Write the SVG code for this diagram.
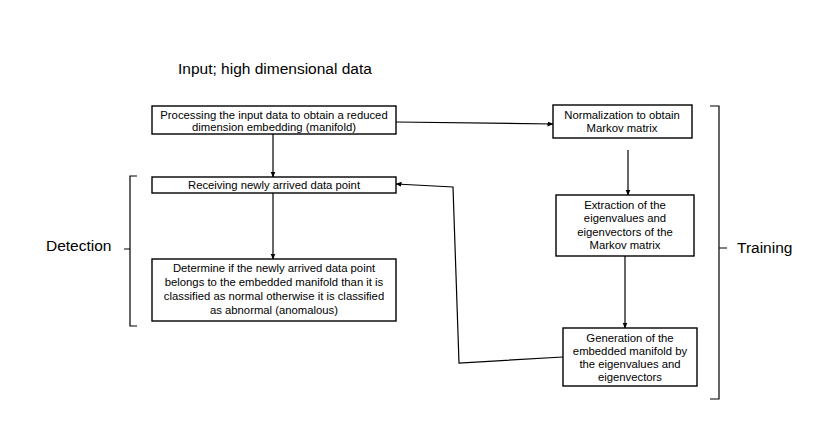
<svg xmlns="http://www.w3.org/2000/svg" width="830" height="436" viewBox="0 0 830 436">
<defs>
<marker id="ah" markerWidth="6" markerHeight="6" refX="5.5" refY="3" orient="auto" markerUnits="userSpaceOnUse">
<path d="M0,0.5 L6,3 L0,5.5 Z" fill="#000"/>
</marker>
<style>
.box{fill:#fff;stroke:#000;stroke-width:1.4}
.t{font-family:"Liberation Sans",Arial,sans-serif;font-size:11.3px;fill:#000;text-anchor:middle}
.lbl{font-family:"Liberation Sans",Arial,sans-serif;font-size:15.5px;fill:#000}
.c{fill:none;stroke:#000;stroke-width:1.2}
.br{fill:none;stroke:#000;stroke-width:1.2}
</style>
</defs>
<rect width="830" height="436" fill="#fff"/>
<text class="lbl" x="178" y="74">Input; high dimensional data</text>
<g id="connectors">
<line class="c" x1="273" y1="134" x2="273" y2="177" marker-end="url(#ah)"/>
<line class="c" x1="273" y1="193" x2="273" y2="259" marker-end="url(#ah)"/>
<line class="c" x1="396" y1="122" x2="553" y2="124" marker-end="url(#ah)"/>
<line class="c" x1="628" y1="150" x2="628" y2="195" marker-end="url(#ah)"/>
<line class="c" x1="625" y1="256" x2="625" y2="328" marker-end="url(#ah)"/>
<polyline class="c" points="563,357 459,363 453,187 396,184" marker-end="url(#ah)"/>
</g>
<g id="n1">
<rect class="box" x="152" y="106" width="244" height="28"/>
<text class="t" x="274" y="119">Processing the input data to obtain a reduced</text>
<text class="t" x="274" y="131">dimension embedding (manifold)</text>
</g>
<g id="n2">
<rect class="box" x="152" y="177" width="244" height="16"/>
<text class="t" x="274" y="189">Receiving newly arrived data point</text>
</g>
<g id="n3">
<rect class="box" x="152" y="259" width="244" height="62"/>
<text class="t" x="274" y="272">Determine if the newly arrived data point</text>
<text class="t" x="274" y="286">belongs to the embedded manifold than it is</text>
<text class="t" x="274" y="300">classified as normal otherwise it is classified</text>
<text class="t" x="274" y="314">as abnormal (anomalous)</text>
</g>
<g id="n4">
<rect class="box" x="553" y="105" width="139" height="33"/>
<text class="t" x="622" y="119">Normalization to obtain</text>
<text class="t" x="622" y="132">Markov matrix</text>
</g>
<g id="n5">
<rect class="box" x="556" y="195" width="138" height="61"/>
<text class="t" x="625" y="209">Extraction of  the</text>
<text class="t" x="625" y="222">eigenvalues and</text>
<text class="t" x="625" y="236">eigenvectors of the</text>
<text class="t" x="625" y="249">Markov matrix</text>
</g>
<g id="n6">
<rect class="box" x="563" y="328" width="134" height="58"/>
<text class="t" x="630" y="342">Generation of the</text>
<text class="t" x="630" y="355">embedded manifold  by</text>
<text class="t" x="630" y="368">the eigenvalues and</text>
<text class="t" x="630" y="381">eigenvectors</text>
</g>
<g id="detection">
<path class="br" d="M137,176 L130,176 L130,249 L124,249 M130,249 L130,326 L137,326"/>
<text class="lbl" x="46" y="251">Detection</text>
</g>
<g id="training">
<path class="br" d="M710,106 L719,106 L719,248 L727,248 M719,248 L719,399 L710,399"/>
<text class="lbl" x="737" y="253">Training</text>
</g>
</svg>
